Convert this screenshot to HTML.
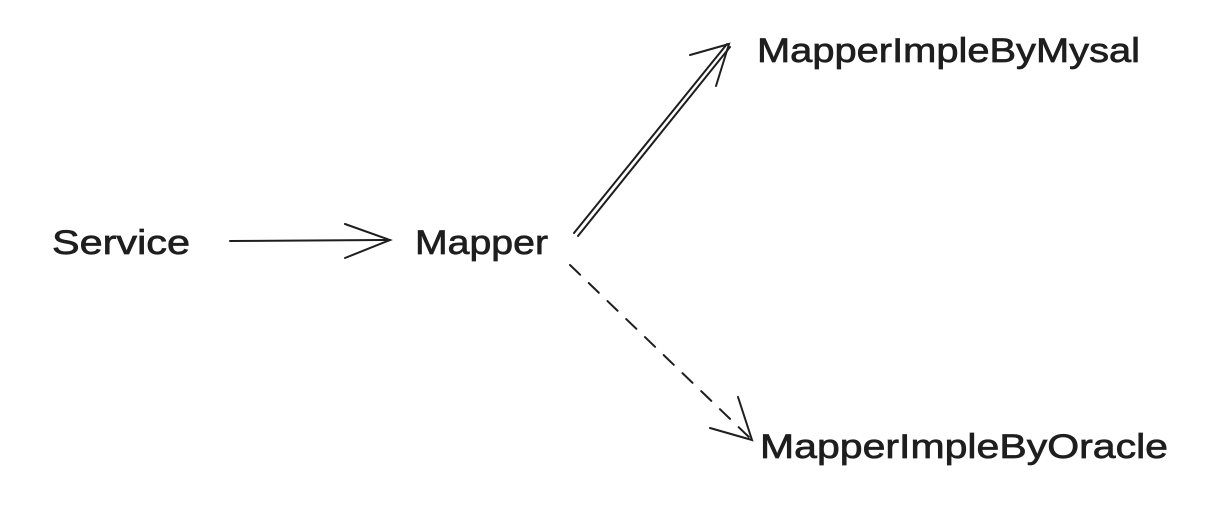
<!DOCTYPE html>
<html><head><meta charset="utf-8"><style>
html,body{margin:0;padding:0;background:#fff;width:1232px;height:506px;overflow:hidden}
text{font-family:"Liberation Sans",sans-serif;font-size:34px;fill:#1e1e1e;stroke:#1e1e1e;stroke-width:0.7}
</style></head><body>
<svg width="1232" height="506" viewBox="0 0 1232 506">
<rect width="1232" height="506" fill="#fff"/>
<text x="52" y="254" textLength="138" lengthAdjust="spacingAndGlyphs">Service</text>
<text x="415" y="254" textLength="133" lengthAdjust="spacingAndGlyphs">Mapper</text>
<text x="757" y="62" textLength="383" lengthAdjust="spacingAndGlyphs">MapperImpleByMysal</text>
<text x="760" y="458" textLength="408" lengthAdjust="spacingAndGlyphs">MapperImpleByOracle</text>
<g stroke="#1e1e1e" stroke-width="2" fill="none" stroke-linecap="round">
<path d="M230 241 L390 240"/>
<path d="M345 224 L390 240 L345 258"/>
</g>
<g stroke="#1e1e1e" stroke-width="2" fill="none" stroke-linecap="round">
<path d="M574 233 L727 44"/>
<path d="M578 236 L730 47"/>
<path d="M690 55 L729 44 L716 86"/>
</g>
<g stroke="#1e1e1e" stroke-width="2" fill="none" stroke-linecap="round">
<path d="M570 265 L752 440" stroke-dasharray="14 12"/>
<path d="M710 428 L752 440 L738 397"/>
</g>
</svg>
</body></html>
